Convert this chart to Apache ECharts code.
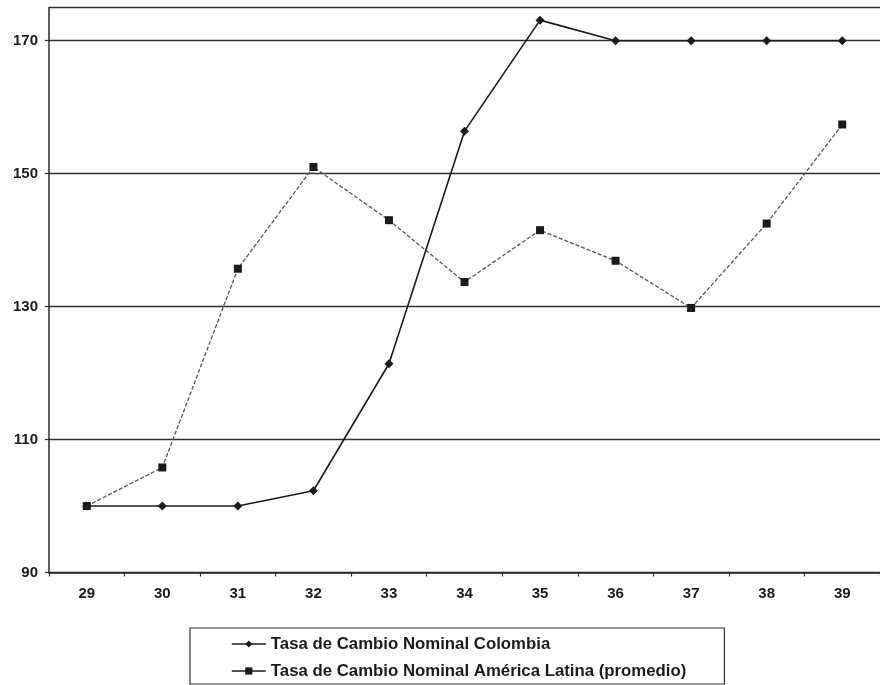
<!DOCTYPE html>
<html>
<head>
<meta charset="utf-8">
<script src="https://cdn.jsdelivr.net/npm/echarts@6/dist/echarts.min.js"></script>
<style>
html,body{margin:0;padding:0;background:#fff;}
#chart{width:880px;height:685px;}
</style>
</head>
<body>
<div id="chart"></div>
<script>
const categories = ['29','30','31','32','33','34','35','36','37','38','39'];
const colombia = [100, 100, 100, 102.3, 121.4, 156.4, 173.1, 170, 170, 170, 170];
const americaLatina = [100, 105.8, 135.7, 151, 143, 133.7, 141.5, 136.9, 129.8, 142.5, 157.4];
const seriesNames = ['Tasa de Cambio Nominal Colombia', 'Tasa de Cambio Nominal América Latina (promedio)'];

const font = "'Liberation Sans', Arial, sans-serif";
const chart = echarts.init(document.getElementById('chart'), null, {renderer: 'canvas'});
chart.setOption({
  animation: false,
  backgroundColor: '#fff',
  grid: {left: 49, top: 7.5, right: -7, bottom: 112.5, containLabel: false},
  xAxis: {
    type: 'category',
    data: categories,
    boundaryGap: true,
    axisLine: {lineStyle: {color: '#2a2a2a', width: 1.5}},
    axisTick: {show: true, alignWithLabel: false, length: 4, inside: false, lineStyle: {color: '#2a2a2a', width: 1.2}},
    axisLabel: {color: '#1a1a1a', fontFamily: font, fontWeight: 'bold', fontSize: 15, margin: 14},
    splitLine: {show: false}
  },
  yAxis: {
    type: 'value',
    min: 90, max: 175, interval: 20,
    axisLine: {show: true, lineStyle: {color: '#2a2a2a', width: 1.5}},
    axisTick: {show: true, length: 4, lineStyle: {color: '#2a2a2a', width: 1.2}},
    axisLabel: {color: '#1a1a1a', fontFamily: font, fontWeight: 'bold', fontSize: 15, margin: 11, showMaxLabel: false},
    splitLine: {show: true, lineStyle: {color: '#2f2f2f', width: 1.4}}
  },
  legend: {
    orient: 'vertical',
    left: 190, top: 628,
    padding: [6, 38, 3, 41],
    itemGap: 7,
    itemWidth: 34, itemHeight: 9,
    borderColor: '#333', borderWidth: 1.2,
    backgroundColor: '#fff',
    lineStyle: {type: 'solid', color: '#1a1a1a', width: 1.6},
    textStyle: {color: '#1a1a1a', fontFamily: font, fontWeight: 'bold', fontSize: 16.8, lineHeight: 20},
    data: seriesNames
  },
  series: [
    {
      name: seriesNames[0],
      type: 'line',
      data: colombia,
      symbol: 'diamond',
      symbolSize: 9,
      itemStyle: {color: '#1a1a1a'},
      lineStyle: {color: '#1a1a1a', width: 1.6},
      z: 3
    },
    {
      name: seriesNames[1],
      type: 'line',
      data: americaLatina,
      symbol: 'rect',
      symbolSize: 8,
      itemStyle: {color: '#1a1a1a'},
      lineStyle: {color: '#555', width: 1.3, type: [4, 2]},
      z: 2
    }
  ]
});
</script>
</body>
</html>
